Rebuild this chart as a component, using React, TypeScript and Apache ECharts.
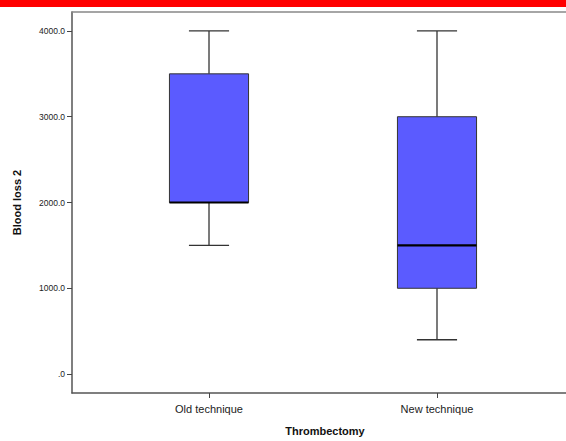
import React, { useEffect, useRef } from "react";
import * as echarts from "echarts";

const categories = ["Old technique", "New technique"];
// [min, Q1, median, Q3, max]
const boxStats = [
  [1500, 2000, 2000, 3500, 4000],
  [400, 1000, 1500, 3000, 4000],
];
const yTicks = [0, 1000, 2000, 3000, 4000];
const yTickLabels = [".0", "1000.0", "2000.0", "3000.0", "4000.0"];

export default function App() {
  const ref = useRef<HTMLDivElement>(null);
  useEffect(() => {
    const chart = echarts.init(ref.current!, null, { renderer: "svg" });
    const font = "Arial, 'Liberation Sans', sans-serif";
    const data = boxStats.map((s, i) => [i, ...s]);
    chart.setOption({
      animation: false,
      backgroundColor: "#ffffff",
      graphic: [
        { type: "rect", left: 0, top: 0, shape: { width: 566, height: 7 }, style: { fill: "#ff0000" } },
      ],
      grid: { left: 72, right: 0, top: 12, bottom: 47, show: false },
      xAxis: [
        {
          type: "value",
          min: -0.6009,
          max: 1.5658,
          position: "bottom",
          splitLine: { show: false },
          axisLine: { show: true, onZero: false, lineStyle: { color: "#555", width: 1.5 } },
          axisTick: { show: true, customValues: [0, 1], length: 5, lineStyle: { color: "#444" } },
          axisLabel: {
            customValues: [0, 1],
            formatter: (v: number) => categories[Math.round(v)] ?? "",
            fontFamily: font,
            fontSize: 11,
            color: "#222",
            margin: 10,
          },
          name: "Thrombectomy",
          nameLocation: "middle",
          nameGap: 32,
          nameTextStyle: { fontFamily: font, fontSize: 11, fontWeight: "bold", color: "#111", padding: [0, 0, 0, 12] },
        },
        {
          type: "value",
          min: 0,
          max: 1,
          position: "top",
          splitLine: { show: false },
          axisLine: { show: true, onZero: false, lineStyle: { color: "#888", width: 1.5 } },
          axisTick: { show: false },
          axisLabel: { show: false },
        },
      ],
      yAxis: {
        type: "value",
        min: -221,
        max: 4221,
        position: "left",
        splitLine: { show: false },
        axisLine: { show: true, onZero: false, lineStyle: { color: "#555", width: 1.5 } },
        axisTick: { show: true, customValues: yTicks, length: 5, lineStyle: { color: "#444" } },
        axisLabel: {
          customValues: yTicks,
          formatter: (v: number) => yTickLabels[yTicks.indexOf(v)] ?? "",
          fontFamily: font,
          fontSize: 8.5,
          color: "#222",
          margin: 7,
        },
        name: "Blood loss 2",
        nameLocation: "middle",
        nameGap: 50,
        nameTextStyle: { fontFamily: font, fontSize: 11, fontWeight: "bold", color: "#111" },
      },
      series: [
        {
          type: "custom",
          xAxisIndex: 0,
          yAxisIndex: 0,
          data,
          encode: { x: 0, y: [1, 2, 3, 4, 5] },
          renderItem: (params: any, api: any) => {
            const x = api.value(0);
            const mn = api.value(1), q1 = api.value(2), md = api.value(3), q3 = api.value(4), mx = api.value(5);
            const bw = 0.1735, cw = 0.088;
            const pL = api.coord([x - bw, q3]);
            const pR = api.coord([x + bw, q1]);
            const c = api.coord([x, 0])[0];
            const cl = api.coord([x - cw, 0])[0];
            const cr = api.coord([x + cw, 0])[0];
            const yMin = api.coord([x, mn])[1];
            const yMax = api.coord([x, mx])[1];
            const yQ1 = api.coord([x, q1])[1];
            const yQ3 = api.coord([x, q3])[1];
            const yMd = api.coord([x, md])[1];
            const ls = { stroke: "#333", lineWidth: 1.3 };
            return {
              type: "group",
              children: [
                { type: "line", shape: { x1: c, y1: yMax, x2: c, y2: yQ3 }, style: ls },
                { type: "line", shape: { x1: c, y1: yQ1, x2: c, y2: yMin }, style: ls },
                { type: "line", shape: { x1: cl, y1: yMax, x2: cr, y2: yMax }, style: ls },
                { type: "line", shape: { x1: cl, y1: yMin, x2: cr, y2: yMin }, style: ls },
                {
                  type: "rect",
                  shape: { x: pL[0], y: pL[1], width: pR[0] - pL[0], height: pR[1] - pL[1] },
                  style: { fill: "#5b5bff", stroke: "#333", lineWidth: 1 },
                },
                { type: "line", shape: { x1: pL[0], y1: yMd, x2: pR[0], y2: yMd }, style: { stroke: "#000", lineWidth: 2.2 } },
              ],
            };
          },
        },
      ],
    });
    return () => chart.dispose();
  }, []);
  return <div ref={ref} style={{ position: "fixed", left: 0, top: 0, width: 566, height: 441 }} />;
}
